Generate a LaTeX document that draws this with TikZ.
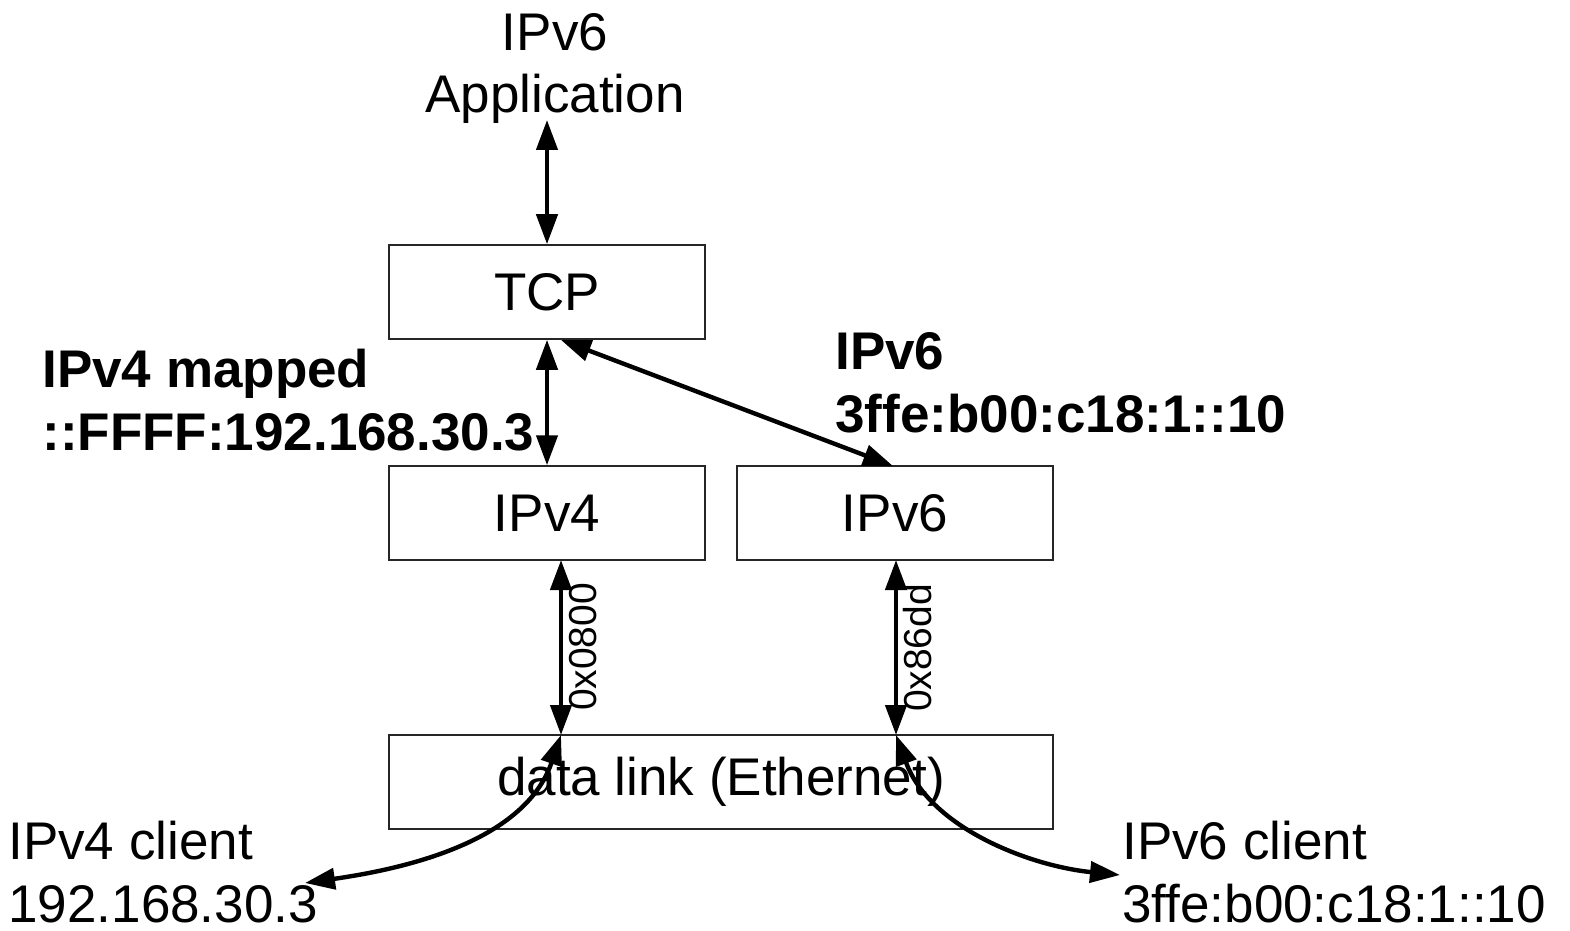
\documentclass[tikz,border=0pt]{standalone}
\usepackage{fontspec}
\setmainfont[Ligatures=NoCommon]{Liberation Sans}
\usetikzlibrary{arrows.meta}
\begin{document}
\begin{tikzpicture}[x=0.5pt,y=-0.5pt,
  layer/.style={draw=black!85,line width=0.75pt,minimum width=158pt,minimum height=47pt,inner sep=0pt,font=\fontsize{26.5}{31.5}\selectfont},
  txt/.style={inner sep=0pt,font=\fontsize{26.5}{31.5}\selectfont},
  btxt/.style={inner sep=0pt,font=\fontsize{26.5}{31.5}\selectfont\bfseries},
  small/.style={inner sep=0pt,font=\fontsize{19.5}{23}\selectfont,rotate=90},
  link/.style={line width=2.2pt,{Triangle[length=15pt,width=10.5pt]}-{Triangle[length=15pt,width=10.5pt]}}
]
\useasboundingbox (0,0) rectangle (1570,931);
\node[layer] (tcp) at (547,292) {TCP};
\node[layer] (ip4) at (547,513) {IPv4};
\node[layer] (ip6) at (895,513) {IPv6};
\node[layer,minimum width=332pt] (dl) at (721,782) {data link (Ethernet)};

\node[txt,align=center,anchor=base] (app) at (555,113) {IPv6\\Application};
\coordinate (appb) at (547,120);

\node[btxt,align=left,anchor=base west] (map) at (42,450) {IPv4 mapped\\::FFFF:192.168.30.3};
\node[btxt,align=left,anchor=base west] (v6a) at (835,432) {IPv6\\3ffe:b00:c18:1::10};
\node[txt,align=left,anchor=base west] (c4) at (8,922) {IPv4 client\\192.168.30.3};
\node[txt,align=left,anchor=base west] (c6) at (1122,922) {IPv6 client\\3ffe:b00:c18:1::10};

\coordinate (tcpT) at (561,340);
\coordinate (ip6T) at (893,466);
\coordinate (ip4B) at (561,560);
\coordinate (ip6B) at (896,560);
\coordinate (dlL) at (561,735);
\coordinate (dlR) at (896,735);
\coordinate (c4e) at (305,883);
\coordinate (c6e) at (1120,875);

\draw[link] (appb) -- (tcp.north);
\draw[link] (tcp.south) -- (ip4.north);
\draw[link] (tcpT) -- (ip6T);
\draw[link] (ip4B) -- (dlL);
\draw[link] (ip6B) -- (dlR);
\draw[link] (dlL) .. controls (525,840) and (410,868) .. (c4e);
\draw[link] (dlR) .. controls (930,828) and (1030,866) .. (c6e);

\node[small] (l4) at (583,647) {0x0800};
\node[small] (l6) at (918,648) {0x86dd};
\end{tikzpicture}
\end{document}
